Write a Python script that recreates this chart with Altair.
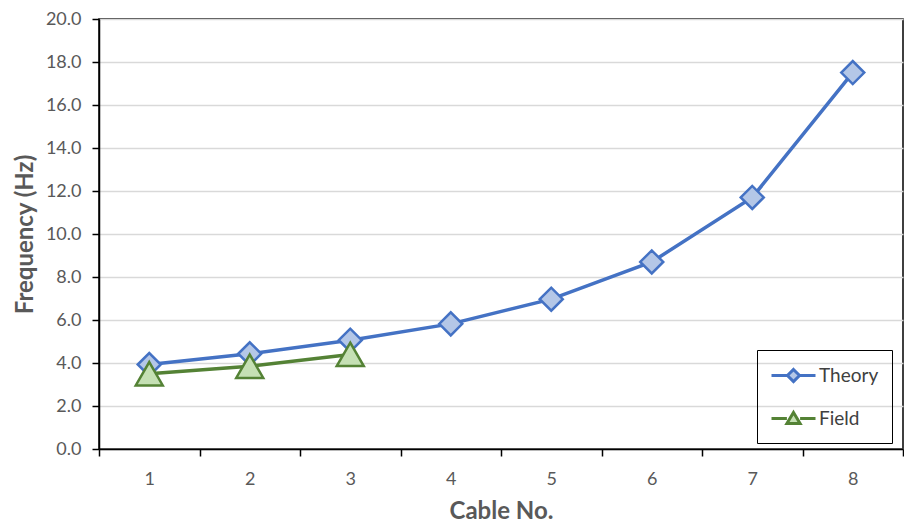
import altair as alt
import pandas as pd

cables = ["1", "2", "3", "4", "5", "6", "7", "8"]
theory = [3.93, 4.43, 5.06, 5.82, 6.97, 8.70, 11.70, 17.51]
field_cables = ["1", "2", "3"]
field = [3.5, 3.85, 4.4]
series = ["Theory", "Field"]
line_colors = ["#4472C4", "#548235"]
fill_colors = ["#B4C7E7", "#C5E0B4"]
y_ticks = [0, 2, 4, 6, 8, 10, 12, 14, 16, 18, 20]

rows = [{"cable": c, "freq": v, "series": "Theory"} for c, v in zip(cables, theory)]
rows += [{"cable": c, "freq": v, "series": "Field"} for c, v in zip(field_cables, field)]
df = pd.DataFrame(rows)

FONT = "Lato"
LABEL_C = "#595959"
tri = "M0,-0.866L1,0.866L-1,0.866Z"
leg_theory = "M-1,0L0.45,0M1.55,0L3,0M1,-0.55L1.55,0L1,0.55L0.45,0Z"
leg_field = "M-1,0L0.4,0M1.6,0L3,0M1,-0.55L1.6,0.45L0.4,0.45Z"

x = alt.X(
    "cable:O",
    scale=alt.Scale(type="band", domain=cables, paddingInner=0, paddingOuter=0),
    axis=alt.Axis(
        title="Cable No.", labelAngle=0, tickBand="extent", tickSize=7,
        labelPadding=14, titlePadding=11, domainColor="black", tickColor="black",
        domainWidth=1.5, tickWidth=1.5, labelFontSize=18, labelColor=LABEL_C,
        titleFontSize=24, titleFontWeight="bold", titleColor=LABEL_C,
        labelFont=FONT, titleFont=FONT, grid=False,
    ),
)
y = alt.Y(
    "freq:Q",
    scale=alt.Scale(domain=[0, 20], nice=False),
    axis=alt.Axis(
        title="Frequency (Hz)", values=y_ticks, format=".1f", tickSize=7,
        labelPadding=11, titlePadding=8, grid=True, gridColor="#D9D9D9",
        gridWidth=1.5, domainColor="black", tickColor="black", domainWidth=1.5,
        tickWidth=1.5, labelFontSize=18, labelColor=LABEL_C, titleFontSize=24,
        titleFontWeight="bold", titleColor=LABEL_C, labelFont=FONT, titleFont=FONT,
    ),
)

legend = alt.Legend(
    title=None, orient="none", legendX=658, legendY=331,
    strokeColor="black", padding=13, labelFontSize=19, labelColor="#404040",
    labelFont=FONT, symbolSize=484, symbolStrokeWidth=3, labelOffset=24,
    rowPadding=18, symbolOpacity=1,
)

stroke = alt.Stroke("series:N", scale=alt.Scale(domain=series, range=line_colors), legend=legend)
fill = alt.Fill("series:N", scale=alt.Scale(domain=series, range=fill_colors), legend=legend)

lines = alt.Chart(df).mark_line(strokeWidth=3.5).encode(x=x, y=y, stroke=stroke)

theory_pts = alt.Chart(df).transform_filter(alt.datum.series == "Theory").mark_point(
    shape="diamond", size=529, strokeWidth=2.5, opacity=1
).encode(x=x, y=y, stroke=stroke, fill=fill)

field_pts = alt.Chart(df).transform_filter(alt.datum.series == "Field").mark_point(
    shape=tri, size=729, strokeWidth=2.5, opacity=1
).encode(x=x, y=y, stroke=stroke, fill=fill)

legend_layer = alt.Chart(df).mark_point(opacity=0, size=0).encode(
    x=x, y=y, stroke=stroke, fill=fill,
    shape=alt.Shape("series:N", scale=alt.Scale(domain=series, range=[leg_theory, leg_field]), legend=legend),
)

chart = alt.layer(lines, theory_pts, field_pts, legend_layer).properties(
    width=804, height=430,
    autosize=alt.AutoSizeParams(type="none"),
    padding={"left": 91, "top": 11, "right": 1, "bottom": 74},
).configure_view(stroke="black", strokeWidth=1.5)

chart.save("out.html", embed_options={"renderer": "svg", "actions": False})
